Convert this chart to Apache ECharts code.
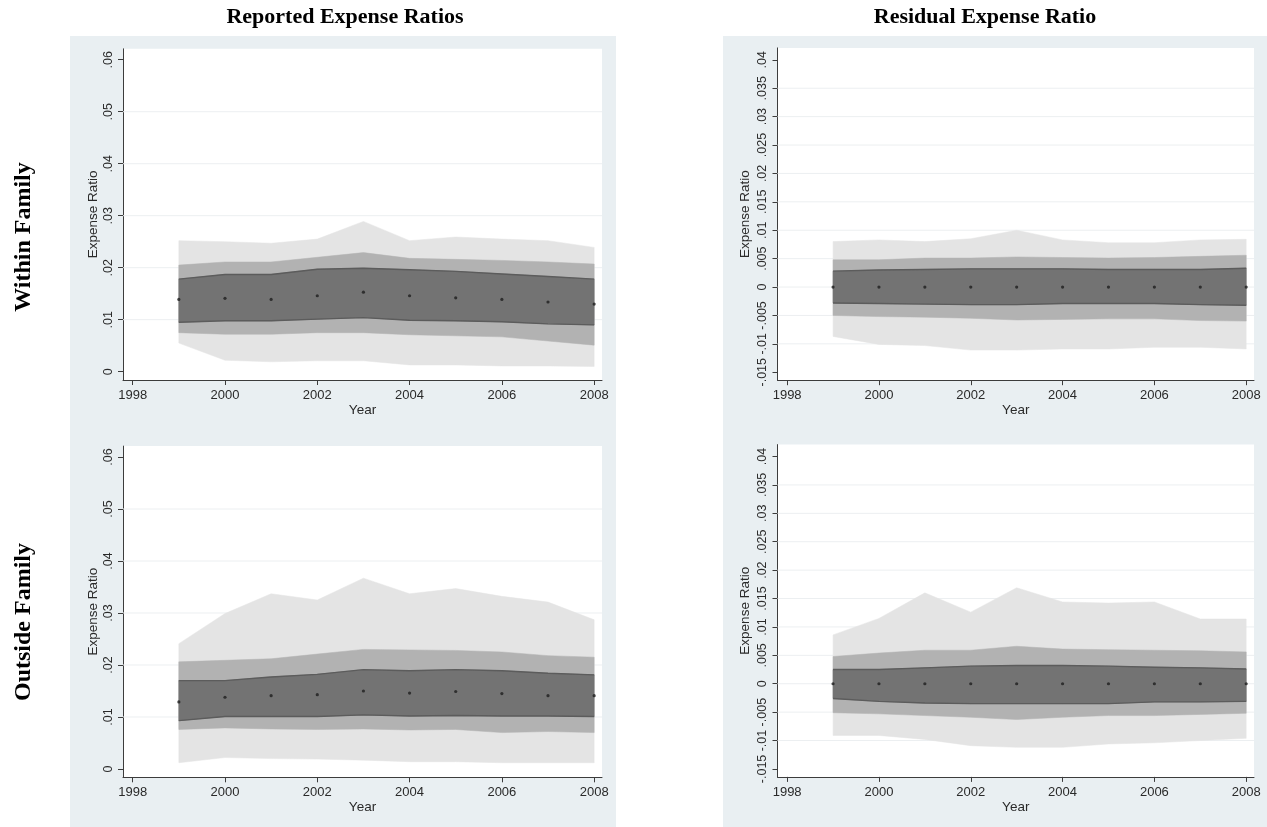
<!DOCTYPE html>
<html>
<head>
<meta charset="utf-8">
<script src="https://cdn.jsdelivr.net/npm/echarts@6/dist/echarts.min.js"></script>
<style>
  html, body { margin: 0; padding: 0; background: #ffffff; }
  #chart { width: 1267px; height: 827px; }
</style>
</head>
<body>
<div id="chart"></div>
<script>
// Years observed
const years = [1999, 2000, 2001, 2002, 2003, 2004, 2005, 2006, 2007, 2008];

// Tick values and their printed labels
const yearTicks = [1998, 2000, 2002, 2004, 2006, 2008];
const yearTickLabels = ['1998', '2000', '2002', '2004', '2006', '2008'];
const reportedTicks = [0, 0.01, 0.02, 0.03, 0.04, 0.05, 0.06];
const reportedTickLabels = ['0', '.01', '.02', '.03', '.04', '.05', '.06'];
const residualTicks = [-0.015, -0.01, -0.005, 0, 0.005, 0.01, 0.015, 0.02, 0.025, 0.03, 0.035, 0.04];
const residualTickLabels = ['-.015', '-.01', '-.005', '0', '.005', '.01', '.015', '.02', '.025', '.03', '.035', '.04'];

// Within family, reported expense ratios (outer / middle / inner bands and median)
const withinRepOuterHi = [0.0252, 0.0250, 0.0247, 0.0255, 0.0289, 0.0252, 0.0259, 0.0255, 0.0252, 0.0239];
const withinRepMidHi   = [0.0205, 0.0211, 0.0211, 0.0220, 0.0229, 0.0218, 0.0216, 0.0214, 0.0211, 0.0207];
const withinRepInnerHi = [0.0178, 0.0187, 0.0187, 0.0197, 0.0199, 0.0196, 0.0193, 0.0188, 0.0183, 0.0178];
const withinRepMedian  = [0.0139, 0.0141, 0.0139, 0.0146, 0.0153, 0.0146, 0.0142, 0.0139, 0.0134, 0.0130];
const withinRepInnerLo = [0.0095, 0.0098, 0.0098, 0.0101, 0.0104, 0.0099, 0.0098, 0.0096, 0.0092, 0.0090];
const withinRepMidLo   = [0.0075, 0.0072, 0.0072, 0.0075, 0.0075, 0.0071, 0.0069, 0.0067, 0.0059, 0.0051];
const withinRepOuterLo = [0.0055, 0.0022, 0.0019, 0.0021, 0.0021, 0.0013, 0.0013, 0.0011, 0.0011, 0.0010];

// Within family, residual expense ratios
const withinResOuterHi = [0.0080, 0.0083, 0.0080, 0.0085, 0.0100, 0.0083, 0.0078, 0.0078, 0.0083, 0.0084];
const withinResMidHi   = [0.0048, 0.0048, 0.0051, 0.0051, 0.0053, 0.0052, 0.0051, 0.0052, 0.0054, 0.0056];
const withinResInnerHi = [0.0028, 0.0030, 0.0031, 0.0032, 0.0032, 0.0032, 0.0031, 0.0031, 0.0031, 0.0033];
const withinResMedian  = [0, 0, 0, 0, 0, 0, 0, 0, 0, 0];
const withinResInnerLo = [-0.0028, -0.0029, -0.0030, -0.0031, -0.0031, -0.0029, -0.0029, -0.0029, -0.0031, -0.0032];
const withinResMidLo   = [-0.0050, -0.0052, -0.0053, -0.0055, -0.0058, -0.0057, -0.0056, -0.0056, -0.0059, -0.0060];
const withinResOuterLo = [-0.0087, -0.0101, -0.0103, -0.0111, -0.0111, -0.0109, -0.0109, -0.0106, -0.0106, -0.0109];

// Outside family, reported expense ratios
const outsideRepOuterHi = [0.0241, 0.0299, 0.0337, 0.0325, 0.0367, 0.0337, 0.0347, 0.0332, 0.0321, 0.0287];
const outsideRepMidHi   = [0.0206, 0.0209, 0.0212, 0.0221, 0.0230, 0.0229, 0.0228, 0.0225, 0.0218, 0.0215];
const outsideRepInnerHi = [0.0170, 0.0170, 0.0177, 0.0182, 0.0191, 0.0189, 0.0191, 0.0189, 0.0184, 0.0181];
const outsideRepMedian  = [0.0129, 0.0138, 0.0141, 0.0143, 0.0150, 0.0146, 0.0149, 0.0145, 0.0141, 0.0141];
const outsideRepInnerLo = [0.0093, 0.0101, 0.0101, 0.0101, 0.0104, 0.0102, 0.0103, 0.0102, 0.0102, 0.0101];
const outsideRepMidLo   = [0.0076, 0.0079, 0.0077, 0.0076, 0.0077, 0.0075, 0.0076, 0.0070, 0.0072, 0.0070];
const outsideRepOuterLo = [0.0012, 0.0022, 0.0020, 0.0019, 0.0017, 0.0014, 0.0014, 0.0012, 0.0012, 0.0012];

// Outside family, residual expense ratios
const outsideResOuterHi = [0.0086, 0.0115, 0.0160, 0.0126, 0.0169, 0.0144, 0.0142, 0.0144, 0.0114, 0.0114];
const outsideResMidHi   = [0.0048, 0.0054, 0.0059, 0.0059, 0.0066, 0.0061, 0.0060, 0.0059, 0.0058, 0.0056];
const outsideResInnerHi = [0.0025, 0.0025, 0.0028, 0.0031, 0.0032, 0.0032, 0.0031, 0.0029, 0.0028, 0.0026];
const outsideResMedian  = [0, 0, 0, 0, 0, 0, 0, 0, 0, 0];
const outsideResInnerLo = [-0.0026, -0.0031, -0.0034, -0.0035, -0.0035, -0.0035, -0.0035, -0.0032, -0.0032, -0.0031];
const outsideResMidLo   = [-0.0051, -0.0053, -0.0056, -0.0059, -0.0063, -0.0059, -0.0056, -0.0056, -0.0054, -0.0052];
const outsideResOuterLo = [-0.0091, -0.0091, -0.0098, -0.0109, -0.0112, -0.0112, -0.0106, -0.0104, -0.0100, -0.0096];

// ---- styling ----
const SANS = '"Liberation Sans", Arial, sans-serif';
const SERIF = '"Liberation Serif", "Times New Roman", serif';
const PANEL_BG = '#e9eff2';
const GRID_LINE = '#eceff1';
const AXIS_COLOR = '#3c3c3c';
const TEXT_COLOR = '#2a2a2a';
const OUTER_FILL = '#e4e4e4';
const MID_FILL = '#b2b2b2';
const INNER_FILL = '#737373';
const INNER_EDGE = '#5c5c5c';

const panels = [
  { grid: { left: 123, top: 48.8, width: 479, height: 331.2 }, kind: 'rep',
    outer: [withinRepOuterLo, withinRepOuterHi], mid: [withinRepMidLo, withinRepMidHi],
    inner: [withinRepInnerLo, withinRepInnerHi], median: withinRepMedian },
  { grid: { left: 777.5, top: 47.9, width: 476.5, height: 332.3 }, kind: 'res',
    outer: [withinResOuterLo, withinResOuterHi], mid: [withinResMidLo, withinResMidHi],
    inner: [withinResInnerLo, withinResInnerHi], median: withinResMedian },
  { grid: { left: 123, top: 446.1, width: 479, height: 331.2 }, kind: 'rep',
    outer: [outsideRepOuterLo, outsideRepOuterHi], mid: [outsideRepMidLo, outsideRepMidHi],
    inner: [outsideRepInnerLo, outsideRepInnerHi], median: outsideRepMedian },
  { grid: { left: 777.5, top: 444.6, width: 476.5, height: 332.3 }, kind: 'res',
    outer: [outsideResOuterLo, outsideResOuterHi], mid: [outsideResMidLo, outsideResMidHi],
    inner: [outsideResInnerLo, outsideResInnerHi], median: outsideResMedian }
];

const axisRange = {
  rep: { min: -0.0016, max: 0.0621, ticks: reportedTicks, labels: reportedTickLabels, nameGap: 23 },
  res: { min: -0.0164, max: 0.0421, ticks: residualTicks, labels: residualTickLabels, nameGap: 25 }
};

function labelFor(ticks, labels) {
  return function (v) {
    const k = ticks.findIndex(t => Math.abs(t - v) < 1e-9);
    return k >= 0 ? labels[k] : '';
  };
}

// Filled band between a lower and an upper series, drawn as one polygon
function bandRenderer(fill, edge) {
  return function (params, api) {
    if (params.dataIndexInside !== 0) return null;
    const n = params.dataInsideLength;
    const upper = [], lower = [];
    for (let i = 0; i < n; i++) {
      upper.push(api.coord([api.value(0, i), api.value(2, i)]));
      lower.push(api.coord([api.value(0, i), api.value(1, i)]));
    }
    const children = [{
      type: 'polygon',
      shape: { points: upper.concat(lower.slice().reverse()) },
      style: { fill: fill, stroke: fill, lineWidth: 0.5 }
    }];
    if (edge) {
      children.push({ type: 'polyline', shape: { points: upper }, style: { fill: null, stroke: edge, lineWidth: 1.4 } });
      children.push({ type: 'polyline', shape: { points: lower }, style: { fill: null, stroke: edge, lineWidth: 1.4 } });
    }
    return { type: 'group', children: children };
  };
}

// Horizontal reference lines at the interior tick values
function gridLineRenderer(params, api) {
  const cs = params.coordSys;
  const y = api.coord([yearTicks[0], api.value(0)])[1];
  return {
    type: 'line',
    shape: { x1: cs.x, y1: y, x2: cs.x + cs.width, y2: y },
    style: { stroke: GRID_LINE, lineWidth: 1 }
  };
}

const grids = [], xAxes = [], yAxes = [], series = [];

panels.forEach((p, idx) => {
  const r = axisRange[p.kind];
  grids.push(Object.assign({ show: true, backgroundColor: '#ffffff', borderWidth: 0 }, p.grid));

  xAxes.push({
    gridIndex: idx, type: 'value', min: 1997.79, max: 2008.17,
    name: 'Year', nameLocation: 'middle', nameGap: 23,
    nameTextStyle: { fontFamily: SANS, fontSize: 13.5, color: TEXT_COLOR },
    axisLine: { onZero: false, lineStyle: { color: AXIS_COLOR, width: 1 } },
    axisTick: { customValues: yearTicks, length: 5, lineStyle: { color: AXIS_COLOR } },
    axisLabel: { customValues: yearTicks, formatter: labelFor(yearTicks, yearTickLabels),
      fontFamily: SANS, fontSize: 13, color: TEXT_COLOR, margin: 9 },
    splitLine: { show: false }
  });

  yAxes.push({
    gridIndex: idx, type: 'value', min: r.min, max: r.max,
    name: 'Expense Ratio', nameLocation: 'middle', nameGap: r.nameGap, nameRotate: 90,
    nameTextStyle: { fontFamily: SANS, fontSize: 13.5, color: TEXT_COLOR },
    axisLine: { show: true, onZero: false, lineStyle: { color: AXIS_COLOR, width: 1 } },
    axisTick: { show: true, customValues: r.ticks, length: 5, lineStyle: { color: AXIS_COLOR } },
    axisLabel: { customValues: r.ticks, formatter: labelFor(r.ticks, r.labels), rotate: 90,
      fontFamily: SANS, fontSize: 12.5, color: TEXT_COLOR, margin: 8 },
    splitLine: { show: false }
  });

  series.push({
    type: 'custom', xAxisIndex: idx, yAxisIndex: idx, z: 1, silent: true,
    data: r.ticks.slice(1, -1).map(v => [v]),
    encode: { y: 0 },
    renderItem: gridLineRenderer
  });

  [[p.outer, OUTER_FILL, null, 2], [p.mid, MID_FILL, null, 3], [p.inner, INNER_FILL, INNER_EDGE, 4]]
    .forEach(([band, fill, edge, z]) => {
      series.push({
        type: 'custom', xAxisIndex: idx, yAxisIndex: idx, z: z, silent: true,
        data: years.map((yr, i) => [yr, band[0][i], band[1][i]]),
        encode: { x: 0, y: [1, 2] },
        renderItem: bandRenderer(fill, edge)
      });
    });

  series.push({
    type: 'scatter', xAxisIndex: idx, yAxisIndex: idx, z: 5, silent: true,
    symbol: 'circle', symbolSize: 3.2,
    itemStyle: { color: '#1e1e1e' },
    data: years.map((yr, i) => [yr, p.median[i]])
  });
});

const graphics = [
  { type: 'rect', z: -10, shape: { x: 70, y: 36, width: 546, height: 791 }, style: { fill: PANEL_BG } },
  { type: 'rect', z: -10, shape: { x: 723, y: 36, width: 544, height: 791 }, style: { fill: PANEL_BG } },
  { type: 'text', x: 345, y: 17, style: { text: 'Reported Expense Ratios', font: 'bold 22px ' + SERIF,
      fill: '#000', textAlign: 'center', textVerticalAlign: 'middle' } },
  { type: 'text', x: 985, y: 17, style: { text: 'Residual Expense Ratio', font: 'bold 22px ' + SERIF,
      fill: '#000', textAlign: 'center', textVerticalAlign: 'middle' } },
  { type: 'text', x: 24, y: 237, rotation: Math.PI / 2, style: { text: 'Within Family', font: 'bold 24px ' + SERIF,
      fill: '#000', textAlign: 'center', textVerticalAlign: 'middle' } },
  { type: 'text', x: 24, y: 622, rotation: Math.PI / 2, style: { text: 'Outside Family', font: 'bold 24px ' + SERIF,
      fill: '#000', textAlign: 'center', textVerticalAlign: 'middle' } }
];

const chart = echarts.init(document.getElementById('chart'), null, { renderer: 'canvas' });
chart.setOption({
  animation: false,
  backgroundColor: '#ffffff',
  graphic: graphics,
  grid: grids,
  xAxis: xAxes,
  yAxis: yAxes,
  series: series
});
</script>
</body>
</html>
